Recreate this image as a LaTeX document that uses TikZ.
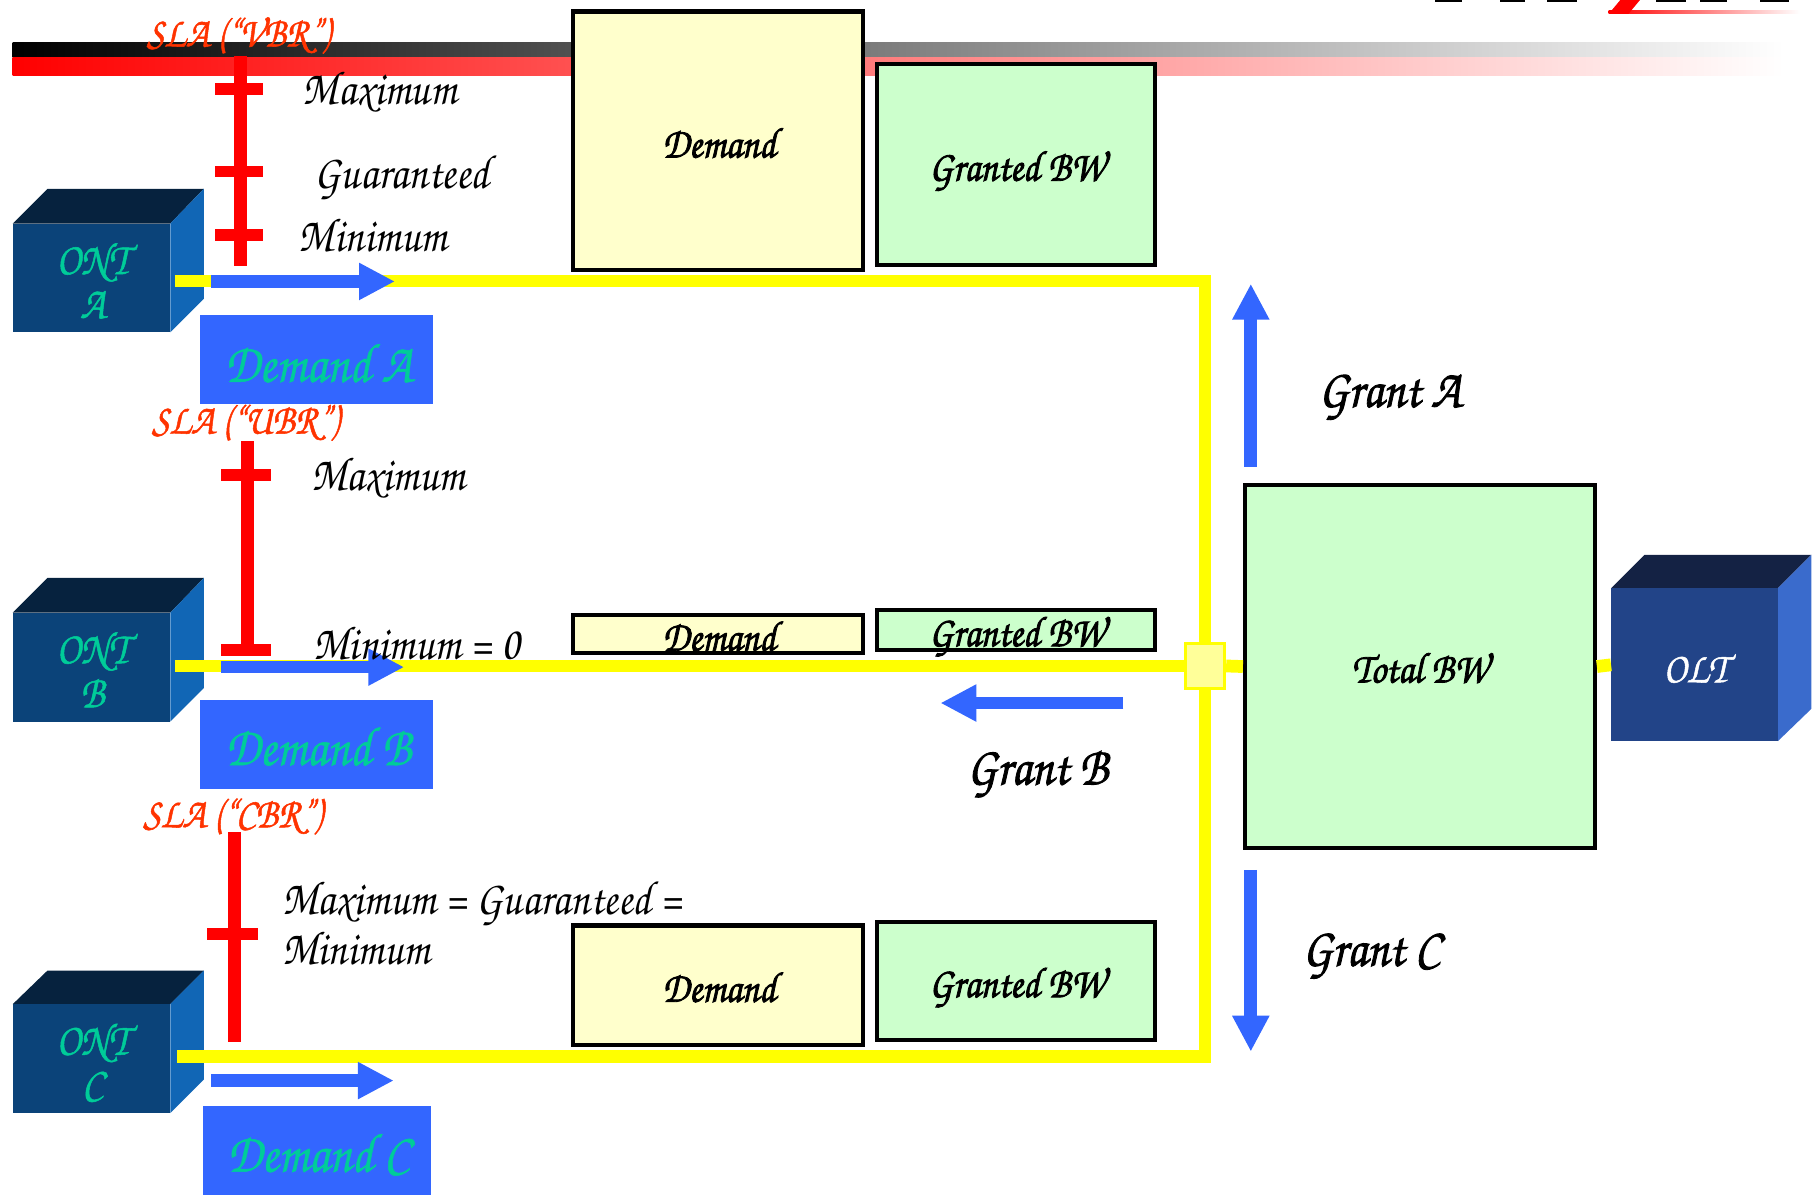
\documentclass[tikz,border=0pt]{standalone}
\usetikzlibrary{arrows.meta}
\definecolor{demandfill}{HTML}{FFFFCC}
\definecolor{grantfill}{HTML}{CCFFCC}
\definecolor{arrowblue}{HTML}{3366FF}
\definecolor{labelteal}{HTML}{00CC99}
\definecolor{slared}{HTML}{FF3300}
\definecolor{lineyellow}{HTML}{FFFF00}
\newcommand{\unitlen}{0.01158cm}
\newcommand{\corsiva}{\fontencoding{OT1}\fontfamily{pzc}\fontseries{m}\fontshape{it}\selectfont}
\tikzset{
  labeltext/.style={inner sep=0pt, xscale=0.88, transform shape, font=\corsiva\fontsize{13.7}{13.7}\selectfont},
  heavytext/.style={execute at begin node={\special{pdf:code q 2 Tr 0.25 w}}, execute at end node={\special{pdf:code Q}}},
  mediumtext/.style={execute at begin node={\special{pdf:code q 2 Tr 0.15 w}}, execute at end node={\special{pdf:code Q}}},
  boxtext/.style={labeltext, heavytext, font=\corsiva\fontsize{12.3}{12.3}\selectfont},
  granttext/.style={labeltext, heavytext, font=\corsiva\fontsize{15.5}{15.5}\selectfont},
  slatext/.style={labeltext, mediumtext, text=slared, font=\corsiva\fontsize{12.1}{12.1}\selectfont},
  onttext/.style={labeltext, mediumtext, text=labelteal, align=center, font=\corsiva\fontsize{13}{12.5}\selectfont},
  demandbox/.style={draw=black, line width=1.2pt, fill=demandfill, inner sep=0pt, minimum width=250*\unitlen},
  grantbox/.style={draw=black, line width=1.2pt, fill=grantfill, inner sep=0pt, minimum width=240*\unitlen},
  bluetext/.style={labeltext, mediumtext, text=labelteal, font=\corsiva\fontsize{15.8}{15.8}\selectfont},
  yellowline/.style={draw=lineyellow, line width=11*\unitlen},
  bluearrow/.style={draw=arrowblue, line width=11*\unitlen, -{Triangle[length=31*\unitlen, width=30*\unitlen]}}
}
\begin{document}
\begin{tikzpicture}[x=\unitlen, y=-\unitlen]
    \useasboundingbox (0,0) rectangle (1568,1033);

    % header bars
    \shade[left color=black, right color=white] (11,37) rectangle (1540,50);
    \shade[left color=red, right color=white] (11,50) rectangle (1540,65);
    \shade[left color=red, right color=white] (1389,9) rectangle (1554,12);
    \fill[red] (1389,12) -- (1399,0) -- (1416,0) -- (1406,12) -- cycle;
    \fill[black] (1239,0) rectangle (1262,2);
    \fill[black] (1295,0) rectangle (1317,2);
    \fill[black] (1336,0) rectangle (1362,2);
    \fill[black] (1430,0) rectangle (1456,2);
    \fill[black] (1468,0) rectangle (1491,2);
    \fill[black] (1520,0) rectangle (1545,2);

    % ONT A
    \fill[fill={rgb,255:red,6;green,34;blue,62}] (11,193) -- (41,163) -- (176,163) -- (147,193) -- cycle;
    \fill[fill={rgb,255:red,17;green,102;blue,181}] (147,193) -- (176,163) -- (176,258) -- (147,287) -- cycle;
    \fill[fill={rgb,255:red,11;green,67;blue,121}] (11,193) rectangle (147,287);
    % ONT B
    \fill[fill={rgb,255:red,6;green,34;blue,62}] (11,529) -- (41,499) -- (176,499) -- (147,529) -- cycle;
    \fill[fill={rgb,255:red,17;green,102;blue,181}] (147,529) -- (176,499) -- (176,594) -- (147,623) -- cycle;
    \fill[fill={rgb,255:red,11;green,67;blue,121}] (11,529) rectangle (147,623);
    % ONT C
    \fill[fill={rgb,255:red,6;green,34;blue,62}] (11,867) -- (41,838) -- (176,838) -- (147,867) -- cycle;
    \fill[fill={rgb,255:red,17;green,102;blue,181}] (147,867) -- (176,838) -- (176,932) -- (147,961) -- cycle;
    \fill[fill={rgb,255:red,11;green,67;blue,121}] (11,867) rectangle (147,961);
    % OLT
    \fill[fill={rgb,255:red,20;green,34;blue,68}] (1391,508) -- (1420,479) -- (1564,479) -- (1535,508) -- cycle;
    \fill[fill={rgb,255:red,58;green,107;blue,204}] (1535,508) -- (1564,479) -- (1564,612) -- (1535,640) -- cycle;
    \fill[fill={rgb,255:red,34;green,68;blue,136}] (1391,508) rectangle (1535,640);

    % free ends of the lines and arrows
    \coordinate (ontAout) at (151,242.5);
    \coordinate (ontBout) at (151,575);
    \coordinate (ontCout) at (153,912.5);
    \coordinate (busTop) at (1040.5,242.5);
    \coordinate (busBottom) at (1040.5,912.5);
    \coordinate (oltIn) at (1391,574);

    % boxes on the lines
    \node[demandbox, minimum height=223*\unitlen] (demandA) at (620,121.5) {};
    \node[grantbox, minimum height=174*\unitlen] (grantedA) at (877,142) {};
    \node[demandbox, minimum height=33*\unitlen] (demandB) at (620,547.5) {};
    \node[grantbox, minimum height=34*\unitlen] (grantedB) at (877,544) {};
    \node[demandbox, minimum height=103*\unitlen] (demandC) at (620,850.5) {};
    \node[grantbox, minimum height=102*\unitlen] (grantedC) at (877,847) {};
    \node[draw=black, line width=1.2pt, fill=grantfill, inner sep=0pt, minimum width=302*\unitlen, minimum height=313*\unitlen] (totalBW) at (1226,575.5) {};
    \node[draw=lineyellow, line width=0.8pt, fill={rgb,255:red,255;green,255;blue,153}, inner sep=0pt, minimum width=34*\unitlen, minimum height=39*\unitlen] (joint) at (1040.5,575) {};

    % yellow lines
    \draw[yellowline] (ontAout) -- (busTop) -- (joint.north);
    \draw[yellowline] (ontCout) -- (busBottom) -- (joint.south);
    \draw[yellowline] (ontBout) -- (joint.west);
    \draw[yellowline] (joint.east) -- (totalBW.west);
    \draw[yellowline] (totalBW.east) -- (oltIn);

    % blue arrows
    \coordinate (arrowAstart) at (182,243);
    \coordinate (arrowAtip) at (341,243);
    \coordinate (arrowBstart) at (191,576);
    \coordinate (arrowBtip) at (349,576);
    \coordinate (arrowCstart) at (182,933);
    \coordinate (arrowCtip) at (340,933);
    \coordinate (grantAstart) at (1080,403);
    \coordinate (grantAtip) at (1080,245);
    \coordinate (grantBstart) at (970,607);
    \coordinate (grantBtip) at (812,607);
    \coordinate (grantCstart) at (1080,751);
    \coordinate (grantCtip) at (1080,908);
    \draw[bluearrow] (arrowAstart) -- (arrowAtip);
    \draw[bluearrow] (arrowBstart) -- (arrowBtip);
    \draw[bluearrow] (arrowCstart) -- (arrowCtip);
    \draw[bluearrow] (grantAstart) -- (grantAtip);
    \draw[bluearrow] (grantBstart) -- (grantBtip);
    \draw[bluearrow] (grantCstart) -- (grantCtip);

    % SLA bars
    \fill[red] (202,48) rectangle (213,230);
    \fill[red] (186,72) rectangle (227,82);
    \fill[red] (186,143) rectangle (227,153);
    \fill[red] (186,198) rectangle (227,208);
    \fill[red] (208,381) rectangle (219,560);
    \fill[red] (191,405) rectangle (234,415);
    \fill[red] (191,556) rectangle (234,566);
    \fill[red] (197,718) rectangle (208,900);
    \fill[red] (179,801) rectangle (223,812);

    % Demand boxes under the ONTs
    \fill[arrowblue] (173,272) rectangle (374,349);
    \fill[arrowblue] (173,604) rectangle (374,681);
    \fill[arrowblue] (175,955) rectangle (372,1032);
    \node[bluetext] (labelDemandA) at (275,313) {Demand A};
    \node[bluetext] (labelDemandB) at (275,644) {Demand B};
    \node[bluetext] (labelDemandC) at (275,995) {Demand C};

    % ONT and OLT names
    \node[onttext] (ontA) at (80,242) {ONT\\A};
    \node[onttext] (ontB) at (80,578) {ONT\\B};
    \node[onttext] (ontC) at (80,916) {ONT\\C};
    \node[labeltext, mediumtext, text=white, font=\corsiva\fontsize{12.3}{12.3}\selectfont] (olt) at (1464,577) {OLT};

    % SLA labels
    \node[slatext] (slaVBR) at (206,31) {SLA (``VBR'')};
    \node[labeltext] (maxA) at (328,79) {Maximum};
    \node[labeltext] (guarA) at (347,153) {Guaranteed};
    \node[labeltext] (minA) at (322,202) {Minimum};
    \node[slatext] (slaUBR) at (212,366) {SLA (``UBR'')};
    \node[labeltext] (maxB) at (335,412) {Maximum};
    \node[labeltext] (minB) at (360,555) {Minimum = 0};
    \node[slatext] (slaCBR) at (201,706) {SLA (``CBR'')};
    \node[labeltext, anchor=west] (maxC) at (243,780) {Maximum = Guaranteed =};
    \node[labeltext, anchor=west] (minC) at (243,818) {Minimum};

    % box labels
    \node[boxtext] (textDemandA) at (621,123) {Demand};
    \node[boxtext] (textGrantedA) at (878,147) {Granted BW};
    \node[boxtext] (textDemandB) at (621,549) {Demand};
    \node[boxtext] (textGrantedB) at (878,549) {Granted BW};
    \node[boxtext] (textDemandC) at (621,852) {Demand};
    \node[boxtext] (textGrantedC) at (878,852) {Granted BW};
    \node[boxtext] (textTotal) at (1226,576) {Total BW};

    % grants
    \node[granttext] (labelGrantA) at (1200,342) {Grant A};
    \node[granttext] (labelGrantB) at (896,668) {Grant B};
    \node[granttext] (labelGrantC) at (1184,825) {Grant C};
\end{tikzpicture}
\end{document}
